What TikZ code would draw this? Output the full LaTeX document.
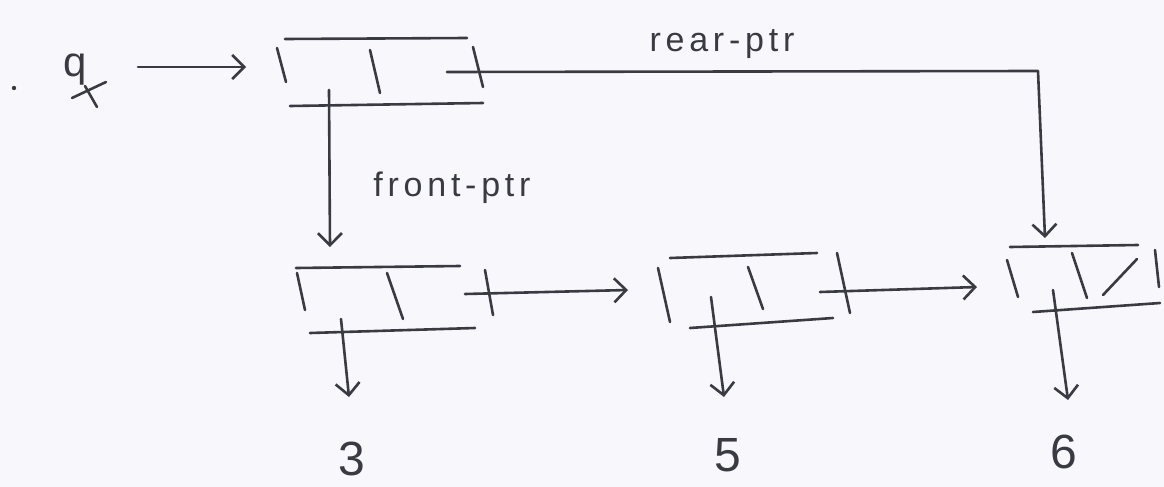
\documentclass[tikz,border=0pt]{standalone}
\usepackage{fontspec}
\setmainfont{Liberation Sans}
\newfontfamily\hand[LetterSpace=14]{Liberation Sans}
\usetikzlibrary{arrows.meta}
\definecolor{ink}{RGB}{58,58,66}
\definecolor{paper}{RGB}{248,248,252}
\begin{document}
\begin{tikzpicture}[x=1pt,y=-1pt,
  pen/.style={draw=ink,line width=2.6pt,line cap=round,line join=round},
  ptr/.style={pen,-{Straight Barb[length=12pt,width=24pt]}},
  tag/.style={text=ink,font=\hand\fontsize{34}{36}\selectfont,inner sep=0pt},
  datum/.style={text=ink,font=\fontsize{48}{50}\selectfont,inner sep=0pt}]

% sheet
\fill[paper] (0,0) rectangle (1164,487);

% the variable q
\fill[ink] (14,88) circle (2.2);
\node[text=ink,font=\fontsize{42}{44}\selectfont,inner sep=0pt,anchor=base west] (q) at (63,77) {q};
\draw[pen] (72,98) -- (106,82);
\draw[pen] (85,86) -- (97,107);
\coordinate (qout) at (138,67);
\coordinate (hin) at (246,67);

% header pair
\draw[pen] (285,39) -- (467,38);
\draw[pen] (290,106) -- (483,103);
\draw[pen] (277,48) -- (286,82);
\draw[pen] (370,50) -- (380,93);
\draw[pen] (473,47) -- (483,87);
\coordinate (hcar) at (329,90);
\coordinate (hcdr) at (447,72);
\coordinate (corner) at (1038,71);

% first pair
\draw[pen] (296,268) -- (460,266);
\draw[pen] (310,333) -- (475,328);
\draw[pen] (297,273) -- (305,310);
\draw[pen] (387,273) -- (403,319);
\draw[pen] (485,270) -- (493,315);
\coordinate (p1in) at (330,247);
\coordinate (p1car) at (341,319);
\coordinate (p1cdr) at (465,294);
\coordinate (v1) at (349,397);

% second pair
\draw[pen] (670,258) -- (817,253);
\draw[pen] (690,328) -- (833,318);
\draw[pen] (658,268) -- (670,322);
\draw[pen] (748,267) -- (763,309);
\draw[pen] (837,253) -- (850,313);
\coordinate (p2in) at (628,290);
\coordinate (p2car) at (711,297);
\coordinate (p2cdr) at (820,292);
\coordinate (v2) at (724,397);

% third pair (empty cdr)
\draw[pen] (1010,247) -- (1138,245);
\draw[pen] (1033,312) -- (1160,303);
\draw[pen] (1007,260) -- (1018,297);
\draw[pen] (1072,253) -- (1087,298);
\draw[pen] (1103,295) -- (1137,259);
\draw[pen] (1155,250) -- (1159,287);
\coordinate (p3in) at (977,287);
\coordinate (p3top) at (1045,238);
\coordinate (p3car) at (1053,290);
\coordinate (v3) at (1068,400);

% pointers
\draw[ptr] (qout) -- (hin);
\draw[ptr] (hcar) -- (p1in);
\draw[ptr] (hcdr) -- (corner) -- (p3top);
\draw[ptr] (p1cdr) -- (p2in);
\draw[ptr] (p2cdr) -- (p3in);
\draw[ptr] (p1car) -- (v1);
\draw[ptr] (p2car) -- (v2);
\draw[ptr] (p3car) -- (v3);

% labels
\node[tag] (rear) at (722,44) {rear-ptr};
\node[tag] (front) at (452,188) {front-ptr};

% values
\node[datum] (n3) at (352,459) {3};
\node[datum] (n5) at (728,455) {5};
\node[datum] (n6) at (1064,452) {6};
\end{tikzpicture}
\end{document}
